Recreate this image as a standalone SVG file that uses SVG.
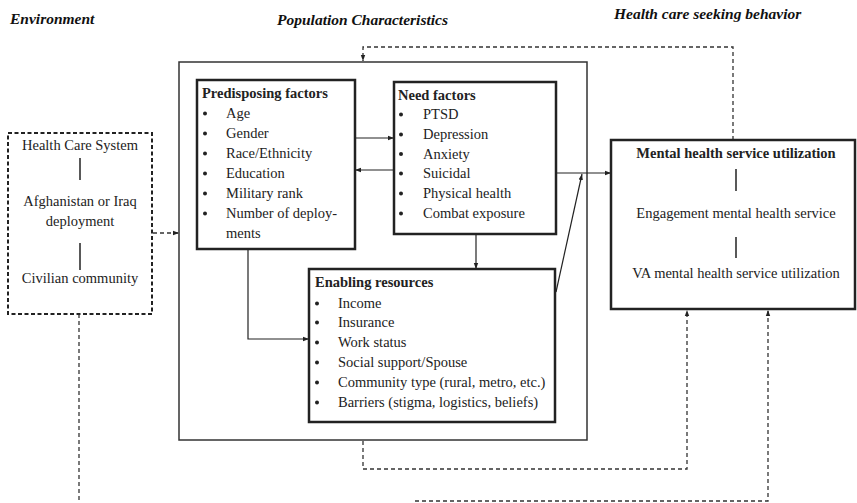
<svg xmlns="http://www.w3.org/2000/svg" width="857" height="503" viewBox="0 0 857 503">
<style>
text{font-family:"Liberation Serif","Times New Roman",serif;font-size:14.5px;fill:#222}
.title{font-weight:bold;font-style:italic;font-size:15.5px;fill:#111}
.head{font-weight:bold}
.mid{text-anchor:middle}
.box{fill:#fff;stroke:#222;stroke-width:2.5}
.outer{fill:none;stroke:#333;stroke-width:1.5}
.env{fill:#fff;stroke:#222;stroke-width:2;stroke-dasharray:4 2.5}
.ln{fill:none;stroke:#222;stroke-width:1.2}
.dash{fill:none;stroke:#333;stroke-width:1.3;stroke-dasharray:4 3}
.bar{stroke:#222;stroke-width:1.5}
circle{fill:#222}
</style>
<defs>
<marker id="ah" markerUnits="userSpaceOnUse" markerWidth="6" markerHeight="6" refX="6" refY="3" orient="auto">
<path d="M0,0.8 L6,3 L0,5.2 z" fill="#222"/>
</marker>
</defs>
<rect width="857" height="503" fill="#fff"/>
<text class="title" x="10" y="24">Environment</text>
<text class="title" x="277" y="25">Population Characteristics</text>
<text class="title" x="614" y="19">Health care seeking behavior</text>

<g id="population">
<rect class="outer" x="179" y="62" width="408" height="378"/>
</g>

<g id="connectors">
<path class="dash" d="M733,140 V47 H363 V61" marker-end="url(#ah)"/>
<path class="dash" d="M363,441 V469 H687 V310" marker-end="url(#ah)"/>
<path class="dash" d="M79,314 V503"/>
<path class="dash" d="M415,501 H768 V310" marker-end="url(#ah)"/>
<path class="dash" d="M153,233 H179" marker-end="url(#ah)"/>
<path class="ln" d="M356,138 H394" marker-end="url(#ah)"/>
<path class="ln" d="M394,170 H355" marker-end="url(#ah)"/>
<path class="ln" d="M476,235 V269" marker-end="url(#ah)"/>
<path class="ln" d="M248,249 V339 H309" marker-end="url(#ah)"/>
<path class="ln" d="M557,173 H611" marker-end="url(#ah)"/>
<path class="ln" d="M556,292 L582,174" marker-end="url(#ah)"/>
</g>

<g id="environment">
<rect class="env" x="8" y="133" width="144" height="181"/>
<text class="mid" x="80" y="150">Health Care System</text>
<line class="bar" x1="80" y1="158" x2="80" y2="180"/>
<text class="mid" x="80" y="206">Afghanistan or Iraq</text>
<text class="mid" x="80" y="226">deployment</text>
<line class="bar" x1="80" y1="243" x2="80" y2="270"/>
<text class="mid" x="80" y="283">Civilian community</text>
</g>

<g id="predisposing">
<rect class="box" x="197" y="80" width="158" height="169"/>
<text class="head" x="202" y="98">Predisposing factors</text>
<circle cx="205" cy="113.5" r="2"/><text x="226" y="118">Age</text>
<circle cx="205" cy="133.5" r="2"/><text x="226" y="138">Gender</text>
<circle cx="205" cy="153.5" r="2"/><text x="226" y="158">Race/Ethnicity</text>
<circle cx="205" cy="173.5" r="2"/><text x="226" y="178">Education</text>
<circle cx="205" cy="193.5" r="2"/><text x="226" y="198">Military rank</text>
<circle cx="205" cy="213.5" r="2"/><text x="226" y="218">Number of deploy-</text>
<text x="226" y="238">ments</text>
</g>

<g id="need">
<rect class="box" x="394" y="82" width="162" height="152"/>
<text class="head" x="398" y="100">Need factors</text>
<circle cx="401" cy="114.5" r="2"/><text x="423" y="119">PTSD</text>
<circle cx="401" cy="134.5" r="2"/><text x="423" y="139">Depression</text>
<circle cx="401" cy="154" r="2"/><text x="423" y="158.5">Anxiety</text>
<circle cx="401" cy="173.5" r="2"/><text x="423" y="178">Suicidal</text>
<circle cx="401" cy="193.5" r="2"/><text x="423" y="198">Physical health</text>
<circle cx="401" cy="213.5" r="2"/><text x="423" y="218">Combat exposure</text>
</g>

<g id="enabling">
<rect class="box" x="309" y="269" width="246" height="153"/>
<text class="head" x="315" y="287">Enabling resources</text>
<circle cx="317" cy="303.5" r="2"/><text x="338" y="308">Income</text>
<circle cx="317" cy="322.5" r="2"/><text x="338" y="327">Insurance</text>
<circle cx="317" cy="342.5" r="2"/><text x="338" y="347">Work status</text>
<circle cx="317" cy="362.5" r="2"/><text x="338" y="367">Social support/Spouse</text>
<circle cx="317" cy="382.5" r="2"/><text x="338" y="387">Community type  (rural, metro, etc.)</text>
<circle cx="317" cy="402.5" r="2"/><text x="338" y="407">Barriers (stigma, logistics, beliefs)</text>
</g>

<g id="mental">
<rect class="box" x="611" y="140" width="244" height="169"/>
<text class="head mid" x="736" y="158">Mental health service utilization</text>
<line class="bar" x1="736" y1="169" x2="736" y2="191"/>
<text class="mid" x="736" y="218">Engagement mental health service</text>
<line class="bar" x1="736" y1="237" x2="736" y2="258"/>
<text class="mid" x="736" y="278">VA mental health service utilization</text>
</g>
</svg>
